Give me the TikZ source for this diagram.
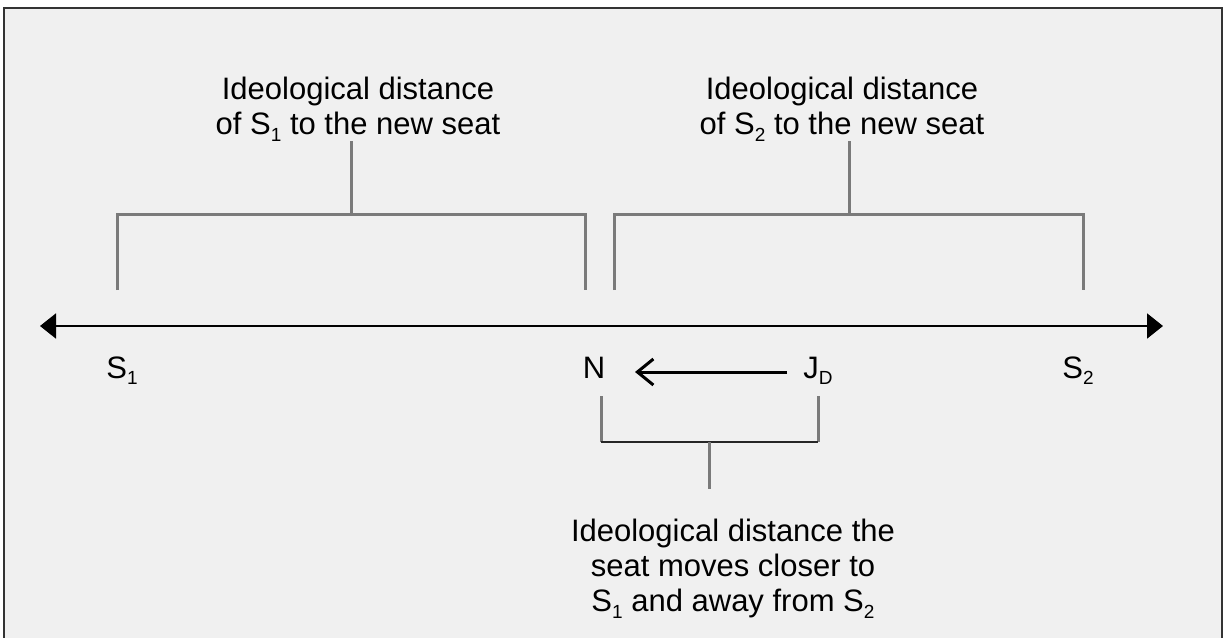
\documentclass[tikz,border=0pt]{standalone}
\usepackage{fontspec}
\setmainfont{Liberation Sans}
\usetikzlibrary{arrows.meta}
\newcommand{\subs}[1]{\raisebox{-0.22em}{\fontsize{19}{19}\selectfont #1}}
\definecolor{bgc}{HTML}{F0F0F0}
\definecolor{brc}{HTML}{7A7A7A}
\tikzset{
  lbl/.style={inner sep=0pt, font=\fontsize{31}{35}\selectfont},
  txt/.style={lbl, align=center, anchor=north},
  brk/.style={draw=brc, line width=3pt, line cap=butt},
  axisline/.style={draw=black, line width=2pt, {Triangle[length=16pt,width=25pt]}-{Triangle[length=16pt,width=25pt]}},
  movearrow/.style={draw=black, line width=3pt, -{Straight Barb[length=16pt,width=26pt]}},
}
\begin{document}
\begin{tikzpicture}[x=1pt,y=-1pt]
\useasboundingbox (0,0) rectangle (1225,637);
\fill[white] (0,0) rectangle (1225,637);
\fill[bgc] (4,8) rectangle (1222,645);
\draw[line width=2pt, draw=black!80] (4,645) -- (4,8) -- (1222,8) -- (1222,645);

% axis
\coordinate (axL) at (40,326);
\coordinate (axR) at (1163,326);
\draw[axisline] (axL) -- (axR);

% labels on axis
\node[lbl, anchor=base] (s1) at (122,378) {S\subs{1}};
\node[lbl, anchor=base] (n) at (594,378) {N};
\node[lbl, anchor=base] (jd) at (818,378) {J\subs{D}};
\node[lbl, anchor=base] (s2) at (1078,378) {S\subs{2}};

% move arrow
\coordinate (mvS) at (787,372);
\coordinate (mvE) at (635,372);
\draw[movearrow] (mvS) -- (mvE);

% top texts
\node[txt] (t1) at (358,77) {Ideological distance\\of S\subs{1} to the new seat};
\node[txt] (t2) at (842,77) {Ideological distance\\of S\subs{2} to the new seat};

% left bracket
\coordinate (l1) at (117,290);
\coordinate (l2) at (117,214);
\coordinate (l3) at (585,214);
\coordinate (l4) at (585,290);
\coordinate (lm) at (351,214);
\draw[brk, line join=miter] (l1) -- (l2) -- (l3) -- (l4);
\draw[brk] (lm) -- (lm |- 0,141);

% right bracket
\coordinate (r1) at (614,290);
\coordinate (r2) at (614,214);
\coordinate (r3) at (1083,214);
\coordinate (r4) at (1083,290);
\coordinate (rm) at (849,214);
\draw[brk, line join=miter] (r1) -- (r2) -- (r3) -- (r4);
\draw[brk] (rm) -- (rm |- 0,141);

% bottom bracket
\coordinate (b1) at (601,396);
\coordinate (b2) at (601,442);
\coordinate (b3) at (818,442);
\coordinate (b4) at (818,396);
\coordinate (bm) at (709,442);
\draw[brk] (b1) -- (b2);
\draw[brk] (b4) -- (b3);
\draw[draw=black!85, line width=2pt] (b2) -- (b3);
\draw[brk] (bm) -- (bm |- 0,489);

% bottom text
\node[txt] (t3) at (733,519) {Ideological distance the\\seat moves closer to\\S\subs{1} and away from S\subs{2}};
\end{tikzpicture}
\end{document}
